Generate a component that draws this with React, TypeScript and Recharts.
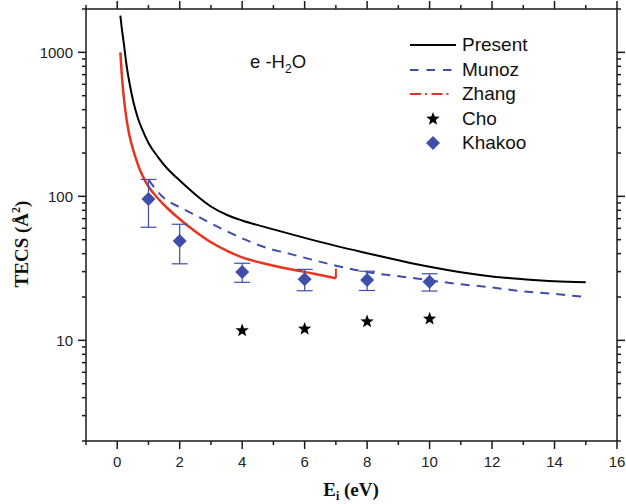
import React from "react";
import {
  ComposedChart,
  Line,
  Scatter,
  XAxis,
  YAxis,
  ErrorBar,
  Legend,
  Customized,
} from "recharts";

// total elastic cross sections for e-H2O, energies in eV, TECS in Å²
const presentEnergy = [0.1, 0.14, 0.2, 0.3, 0.4, 0.52, 0.65, 0.79, 1, 1.3, 1.6, 1.9, 2.5, 3, 3.5, 4, 5, 6, 7, 8, 9, 10, 11, 12, 13, 14, 15];
const presentTecs = [1800, 1500, 1200, 810, 600, 450, 356, 295, 235, 188, 156, 135, 103, 85, 74.5, 68, 59, 51.5, 45.3, 40.3, 36, 32.4, 29.7, 27.8, 26.6, 25.7, 25.3];

const munozEnergy = [1, 1.5, 2, 2.5, 3, 3.6, 4.7, 5.5, 6.2, 7, 7.8, 9.4, 10.8, 12, 12.9, 14, 15];
const munozTecs = [130, 97, 84, 74, 65, 56, 44.5, 40, 36.5, 33, 30.3, 27.2, 24.8, 23.3, 22, 21, 20];

const zhangEnergy = [0.1, 0.13, 0.18, 0.25, 0.36, 0.46, 0.58, 0.7, 0.84, 1, 1.3, 1.6, 1.9, 2.5, 3, 3.5, 4, 4.6, 5.6, 6.3, 7];
const zhangTecs = [1000, 790, 570, 410, 285, 230, 188, 158, 135, 117, 97, 83, 72.5, 57, 48, 42, 37.7, 34.6, 31, 29, 27];
// closing stroke at the end of the Zhang curve
const zhangEndEnergy = [7, 7];
const zhangEndTecs = [27, 31.5];

const choEnergy = [4, 6, 8, 10];
const choTecs = [11.7, 12, 13.5, 14.1];

const khakooEnergy = [1, 2, 4, 6, 8, 10];
const khakooTecs = [96, 49, 29.8, 26.6, 26.2, 25.5];
const khakooErr = [35, 15, 4.5, 4.5, 4, 3.5];

const xTicks = [-1, 0, 1, 2, 3, 4, 5, 6, 7, 8, 9, 10, 11, 12, 13, 14, 15, 16];
const xLabelled = [0, 2, 4, 6, 8, 10, 12, 14, 16];
const yMajor = [10, 100, 1000];
const yMinor = [2, 3, 4, 5, 6, 7, 8, 9, 20, 30, 40, 50, 60, 70, 80, 90, 200, 300, 400, 500, 600, 700, 800, 900, 2000];
const yTicks = [...yMajor, ...yMinor].sort((a, b) => a - b);

const zip = (xs: number[], ys: number[], extra?: number[]) =>
  xs.map((x, i) => (extra ? { x, y: ys[i], err: extra[i] } : { x, y: ys[i] }));

const present = zip(presentEnergy, presentTecs);
const munoz = zip(munozEnergy, munozTecs);
const zhang = zip(zhangEnergy, zhangTecs);
const zhangEnd = zip(zhangEndEnergy, zhangEndTecs);
const cho = zip(choEnergy, choTecs);
const khakoo = zip(khakooEnergy, khakooTecs, khakooErr);

const BLUE = "#3f4dab";
const RED = "#e8341c";
const AXIS = "#1a1a1a";
const SANS = '"Liberation Sans", Arial, sans-serif';
const SERIF = '"Liberation Serif", "Times New Roman", serif';

function starPoints(cx: number, cy: number, r: number) {
  const pts: string[] = [];
  for (let i = 0; i < 10; i++) {
    const a = (-90 + i * 36) * (Math.PI / 180);
    const rr = i % 2 === 0 ? r : r * 0.42;
    pts.push(`${cx + rr * Math.cos(a)},${cy + rr * Math.sin(a)}`);
  }
  return pts.join(" ");
}

function Star({ cx, cy }: { cx?: number; cy?: number }) {
  if (cx == null || cy == null) return null;
  return <polygon points={starPoints(cx, cy, 7)} fill="#000" />;
}

function Diamond({ cx, cy, fill = BLUE }: { cx?: number; cy?: number; fill?: string }) {
  if (cx == null || cy == null) return null;
  const h = 7;
  return <polygon points={`${cx},${cy - h} ${cx + h},${cy} ${cx},${cy + h} ${cx - h},${cy}`} fill={fill} />;
}

const isMajorX = (v: number) => xLabelled.includes(v);
const isMajorY = (v: number) => yMajor.includes(v);

function BottomTick({ x, y, payload }: any) {
  const v = payload.value;
  const major = isMajorX(v);
  return (
    <g>
      <line x1={x} x2={x} y1={y} y2={y + (major ? 8 : 4)} stroke={AXIS} strokeWidth={1.5} />
      {major && (
        <text x={x} y={y + 26} textAnchor="middle" fontSize={15} fontFamily={SANS} fill="#222">
          {v}
        </text>
      )}
    </g>
  );
}

function TopTick({ x, y, payload }: any) {
  const major = isMajorX(payload.value);
  return <line x1={x} x2={x} y1={y} y2={y - (major ? 8 : 4)} stroke={AXIS} strokeWidth={1.5} />;
}

function LeftTick({ x, y, payload }: any) {
  const v = payload.value;
  const major = isMajorY(v);
  return (
    <g>
      <line x1={x} x2={x - (major ? 8 : 4)} y1={y} y2={y} stroke={AXIS} strokeWidth={1.5} />
      {major && (
        <text x={x - 13} y={y + 5.5} textAnchor="end" fontSize={15} fontFamily={SANS} fill="#222">
          {v}
        </text>
      )}
    </g>
  );
}

function RightTick({ x, y, payload }: any) {
  const major = isMajorY(payload.value);
  return <line x1={x} x2={x + (major ? 8 : 4)} y1={y} y2={y} stroke={AXIS} strokeWidth={1.5} />;
}

const legendItems = [
  { name: "Present", kind: "solid" },
  { name: "Munoz", kind: "dash" },
  { name: "Zhang", kind: "dashdot" },
  { name: "Cho", kind: "star" },
  { name: "Khakoo", kind: "diamond" },
];

function LegendIcon({ kind }: { kind: string }) {
  const mid = 11;
  switch (kind) {
    case "solid":
      return <line x1={0} x2={46} y1={mid} y2={mid} stroke="#000" strokeWidth={2} />;
    case "dash":
      return <line x1={0} x2={46} y1={mid} y2={mid} stroke={BLUE} strokeWidth={2} strokeDasharray="8.5 8" />;
    case "dashdot":
      return <line x1={0} x2={42} y1={mid} y2={mid} stroke={RED} strokeWidth={2} strokeDasharray="11 4 2 4.5" />;
    case "star":
      return <Star cx={23} cy={mid} />;
    default:
      return <Diamond cx={23} cy={mid} />;
  }
}

function ChartLegend() {
  return (
    <div style={{ fontFamily: SANS, fontSize: 19, color: "#111" }}>
      {legendItems.map((item) => (
        <div key={item.name} style={{ display: "flex", alignItems: "center", height: 24.5 }}>
          <svg width={46} height={22} style={{ overflow: "visible" }}>
            <LegendIcon kind={item.kind} />
          </svg>
          <span style={{ marginLeft: 6, lineHeight: "24px" }}>{item.name}</span>
        </div>
      ))}
    </div>
  );
}

function Annotation() {
  return (
    <text x={250} y={68} fontSize={18.5} fontFamily={SANS} fill="#111">
      e -H
      <tspan dy={5} fontSize={12}>2</tspan>
      <tspan dy={-5}>O</tspan>
    </text>
  );
}

export default function App() {
  return (
    <div style={{ width: 626, height: 504, background: "#fff" }}>
      <style>{"body{margin:0}"}</style>
      <ComposedChart width={626} height={504} margin={{ top: 0, right: 0, bottom: 0, left: 0 }}>
        <XAxis
          xAxisId="b"
          dataKey="x"
          type="number"
          domain={[-1, 16]}
          allowDataOverflow
          ticks={xTicks}
          interval={0}
          height={63}
          tickSize={0}
          tickMargin={0}
          tickLine={false}
          tick={BottomTick}
          axisLine={{ stroke: AXIS, strokeWidth: 1.5 }}
          label={{
            content: () => (
              <text x={351} y={496} textAnchor="middle" fontSize={19} fontWeight="bold" fontFamily={SERIF} fill="#111">
                E<tspan dy={4} fontSize={12}>i</tspan>
                <tspan dy={-4}> (eV)</tspan>
              </text>
            ),
          }}
        />
        <XAxis
          xAxisId="t"
          orientation="top"
          dataKey="x"
          type="number"
          domain={[-1, 16]}
          allowDataOverflow
          ticks={xTicks}
          interval={0}
          height={9}
          tickSize={0}
          tickMargin={0}
          tickLine={false}
          tick={TopTick}
          axisLine={{ stroke: AXIS, strokeWidth: 1.5 }}
        />
        <YAxis
          yAxisId="l"
          dataKey="y"
          type="number"
          scale="log"
          domain={[2, 2000]}
          allowDataOverflow
          ticks={yTicks}
          interval={0}
          width={86}
          tickSize={0}
          tickMargin={0}
          tickLine={false}
          tick={LeftTick}
          axisLine={{ stroke: AXIS, strokeWidth: 1.5 }}
          label={{
            content: () => (
              <text
                transform="translate(28,244) rotate(-90)"
                textAnchor="middle"
                fontSize={19}
                fontWeight="bold"
                fontFamily={SERIF}
                fill="#111"
              >
                TECS (Å<tspan dy={-8} fontSize={12}>2</tspan>
                <tspan dy={8}>)</tspan>
              </text>
            ),
          }}
        />
        <YAxis
          yAxisId="r"
          orientation="right"
          dataKey="y"
          type="number"
          scale="log"
          domain={[2, 2000]}
          allowDataOverflow
          ticks={yTicks}
          interval={0}
          width={9}
          tickSize={0}
          tickMargin={0}
          tickLine={false}
          tick={RightTick}
          axisLine={{ stroke: AXIS, strokeWidth: 1.5 }}
        />

        <Line
          xAxisId="b"
          yAxisId="l"
          data={present}
          dataKey="y"
          type="monotone"
          stroke="#000"
          strokeWidth={2}
          dot={false}
          isAnimationActive={false}
        />
        <Line
          xAxisId="b"
          yAxisId="l"
          data={munoz}
          dataKey="y"
          type="monotone"
          stroke={BLUE}
          strokeWidth={2}
          strokeDasharray="9 7"
          dot={false}
          isAnimationActive={false}
        />
        <Line
          xAxisId="b"
          yAxisId="l"
          data={zhang}
          dataKey="y"
          type="monotone"
          stroke={RED}
          strokeWidth={2.5}
          dot={false}
          isAnimationActive={false}
        />
        <Line
          xAxisId="b"
          yAxisId="l"
          data={zhangEnd}
          dataKey="y"
          type="linear"
          stroke={RED}
          strokeWidth={2}
          dot={false}
          isAnimationActive={false}
        />
        <Scatter
          xAxisId="b"
          yAxisId="l"
          data={cho}
          dataKey="y"
          shape={(p: any) => <Star cx={p.cx} cy={p.cy} />}
          isAnimationActive={false}
        />
        <Scatter
          xAxisId="b"
          yAxisId="l"
          data={khakoo}
          dataKey="y"
          shape={(p: any) => <Diamond cx={p.cx} cy={p.cy} />}
          isAnimationActive={false}
        >
          <ErrorBar dataKey="err" direction="y" width={8} stroke={BLUE} strokeWidth={1.2} />
        </Scatter>

        <Customized component={Annotation} />
        <Legend
          layout="vertical"
          align="center"
          verticalAlign="middle"
          content={() => <ChartLegend />}
          wrapperStyle={{ position: "absolute", left: 410, top: 33, width: 160 }}
        />
      </ComposedChart>
    </div>
  );
}
